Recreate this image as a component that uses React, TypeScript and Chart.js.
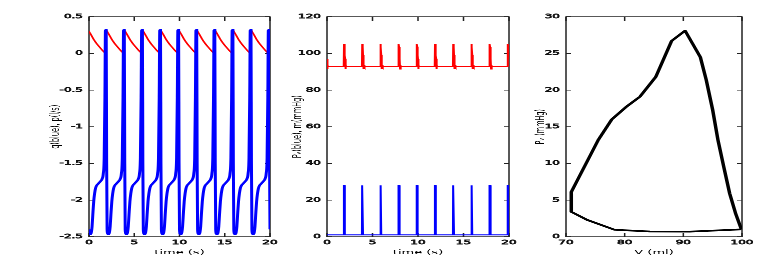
import React, { useEffect, useRef } from "react";
import { Chart, registerables } from "chart.js";

Chart.register(...registerables);

// ---------- data ----------
// beat start times (s); each beat re-uses the cycle shapes below
const beatStarts = [0, 2, 4, 6, 8, 10, 12, 14, 16, 18, 20];
const tEnd = 20;

// panel 1: q (blue) over one beat, times relative to beat start
const qCycleT = [0.0, 0.07, 0.16, 0.26, 0.34, 0.42, 0.52, 0.62, 0.72, 0.85, 1.0, 1.15, 1.3, 1.45, 1.58, 1.68, 1.76, 1.82, 1.9, 1.95];
const qCycleV = [-2.4, -2.46, -2.47, -2.44, -2.36, -2.2, -2.02, -1.91, -1.84, -1.8, -1.78, -1.76, -1.74, -1.71, -1.64, -1.42, -0.6, 0.32, 0.32, -1.5];

// panel 1: p (red) over one beat
const pCycleT = [0.0, 0.25, 0.5, 0.75, 1.0, 1.25, 1.5, 1.75, 1.86, 1.9];
const pCycleV = [0.3, 0.25, 0.195, 0.15, 0.11, 0.075, 0.04, 0.01, 0.0, 0.32];

// panel 2: Pv (blue) over one beat
const pvCycleT = [0.0, 1.84, 1.86, 1.93, 1.96];
const pvCycleV = [1.0, 1.0, 28, 28, 1.0];

// panel 2: Pa (red) over one beat
const paCycleT = [0.0, 0.03, 0.07, 0.12, 1.84, 1.87, 1.92, 1.96];
const paCycleV = [97, 91.5, 93.5, 93, 93, 105, 103.5, 99];

// panel 3: pressure-volume loop
const loopV = [99.9, 98.9, 97.9, 96.9, 95.9, 95.0, 93.9, 92.9, 90.3, 88.0, 85.3, 82.6, 80.4, 77.8, 75.5, 70.9, 70.9, 73.6, 78.3, 84.3, 91.1, 99.9];
const loopP = [1.0, 3.2, 5.9, 9.5, 13.2, 17.3, 21.4, 24.5, 28.1, 26.7, 21.8, 19.1, 17.8, 16.0, 13.2, 6.1, 3.4, 2.3, 0.95, 0.72, 0.7, 1.0];

// axis ticks
const timeTicks = [0, 5, 10, 15, 20];
const qTicks = [-2.5, -2, -1.5, -1, -0.5, 0, 0.5];
const pressTicks = [0, 20, 40, 60, 80, 100, 120];
const loopPTicks = [0, 5, 10, 15, 20, 25, 30];
const loopVTicks = [70, 80, 90, 100];

// ---------- helpers ----------
function beatSeries(ts: number[], vs: number[]) {
  const out: { x: number; y: number }[] = [];
  for (const s of beatStarts) {
    for (let i = 0; i < ts.length; i++) {
      const t = s + ts[i];
      if (t <= tEnd + 1e-9) out.push({ x: t, y: vs[i] });
    }
  }
  return out;
}

const SQ = 0.5; // vertical squash of the reference picture
const VH = 540; // virtual height
const FONT = "'DejaVu Sans', sans-serif";
const TXT = "#111111";

const framePlugin = {
  id: "frame",
  beforeDatasetsDraw(chart: any) {
    const { ctx, chartArea: a, scales } = chart;
    ctx.save();
    ctx.strokeStyle = "#222";
    ctx.lineWidth = 1.5;
    ctx.strokeRect(a.left, a.top, a.right - a.left, a.bottom - a.top);
    ctx.beginPath();
    const sx = scales.x;
    const sy = scales.y;
    for (const t of sx.ticks) {
      const px = sx.getPixelForValue(t.value);
      ctx.moveTo(px, a.bottom);
      ctx.lineTo(px, a.bottom - 8);
      ctx.moveTo(px, a.top);
      ctx.lineTo(px, a.top + 8);
    }
    for (const t of sy.ticks) {
      const py = sy.getPixelForValue(t.value);
      ctx.moveTo(a.left, py);
      ctx.lineTo(a.left + 5, py);
      ctx.moveTo(a.right, py);
      ctx.lineTo(a.right - 5, py);
    }
    ctx.stroke();
    ctx.restore();
  },
};

type PanelDef = {
  left: number;
  width: number;
  padLeft: number;
  padRight: number;
  yWidth: number;
  yTitlePad: number;
  xMin: number;
  xMax: number;
  xStep: number;
  yMin: number;
  yMax: number;
  yStep: number;
  xTitle: string;
  yTitle: string;
  datasets: any[];
};

const plainLabel = (v: any) => String(Math.round(Number(v) * 1000) / 1000);

function Panel({ def }: { def: PanelDef }) {
  const ref = useRef<HTMLCanvasElement | null>(null);
  useEffect(() => {
    if (!ref.current) return;
    const tickFont = { family: FONT, size: 12 };
    const titleFont = { family: FONT, size: 13 };
    const tickCommon = {
      padding: 6,
      font: tickFont,
      color: TXT,
      autoSkip: false,
      callback: plainLabel,
      textStrokeColor: TXT,
      textStrokeWidth: 1.0,
    };
    const chart = new Chart(ref.current, {
      type: "scatter",
      data: { datasets: def.datasets },
      plugins: [framePlugin],
      options: {
        animation: false,
        responsive: false,
        devicePixelRatio: 1,
        layout: { padding: { left: def.padLeft, right: def.padRight, top: 33, bottom: 18 } },
        plugins: { legend: { display: false }, tooltip: { enabled: false } },
        elements: { point: { radius: 0 } },
        scales: {
          x: {
            type: "linear",
            min: def.xMin,
            max: def.xMax,
            ticks: { ...tickCommon, stepSize: def.xStep, padding: 5, maxRotation: 0 },
            grid: { display: false, drawTicks: false },
            border: { display: false },
            title: { display: true, text: def.xTitle, font: titleFont, color: "#000", padding: { top: 0, bottom: 10 } },
            afterFit: (s: any) => {
              s.height = 49;
            },
          },
          y: {
            type: "linear",
            min: def.yMin,
            max: def.yMax,
            ticks: { ...tickCommon, stepSize: def.yStep },
            grid: { display: false, drawTicks: false },
            border: { display: false },
            title: { display: true, text: def.yTitle, font: titleFont, color: "#000", padding: { top: def.yTitlePad, bottom: 0 } },
            afterFit: (s: any) => {
              s.width = def.yWidth;
            },
          },
        },
      } as any,
    });
    return () => chart.destroy();
  }, [def]);
  return (
    <canvas
      ref={ref}
      width={def.width}
      height={VH}
      style={{ position: "absolute", left: def.left, top: 0, width: def.width, height: VH }}
    />
  );
}

const panel1: PanelDef = {
  left: 0,
  width: 285,
  padLeft: 43,
  padRight: 15,
  yWidth: 46,
  yTitlePad: 5,
  xMin: timeTicks[0],
  xMax: timeTicks[timeTicks.length - 1],
  xStep: 5,
  yMin: qTicks[0],
  yMax: qTicks[qTicks.length - 1],
  yStep: 0.5,
  xTitle: "time (s)",
  yTitle: "q(blue), p(l/s)",
  datasets: [
    { data: beatSeries(qCycleT, qCycleV), showLine: true, borderColor: "#0000ff", borderWidth: 3, cubicInterpolationMode: "monotone" },
    { data: beatSeries(pCycleT, pCycleV), showLine: true, borderColor: "#ff0000", borderWidth: 2, cubicInterpolationMode: "monotone" },
  ],
};

const panel2: PanelDef = {
  left: 285,
  width: 245,
  padLeft: 1,
  padRight: 21,
  yWidth: 41,
  yTitlePad: 4,
  xMin: timeTicks[0],
  xMax: timeTicks[timeTicks.length - 1],
  xStep: 5,
  yMin: pressTicks[0],
  yMax: pressTicks[pressTicks.length - 1],
  yStep: 20,
  xTitle: "time (s)",
  yTitle: "Pᵥ(blue), m(mmHg)",
  datasets: [
    { data: beatSeries(pvCycleT, pvCycleV), showLine: true, borderColor: "#0000ff", borderWidth: 2 },
    { data: beatSeries(paCycleT, paCycleV), showLine: true, borderColor: "#ff0000", borderWidth: 2 },
  ],
};

const panel3: PanelDef = {
  left: 530,
  width: 252,
  padLeft: 0,
  padRight: 40,
  yWidth: 36,
  yTitlePad: 3,
  xMin: loopVTicks[0],
  xMax: loopVTicks[loopVTicks.length - 1],
  xStep: 10,
  yMin: loopPTicks[0],
  yMax: loopPTicks[loopPTicks.length - 1],
  yStep: 5,
  xTitle: "V (ml)",
  yTitle: "Pᵥ (mmHg)",
  datasets: [
    {
      data: loopV.map((v, i) => ({ x: v, y: loopP[i] })),
      showLine: true,
      borderColor: "#000000",
      borderWidth: 3.5,
      borderJoinStyle: "round",
    },
  ],
};

export default function App() {
  useEffect(() => {
    document.body.style.margin = "0";
  }, []);
  return (
    <div style={{ position: "fixed", left: 0, top: 0, width: 782, height: 270, overflow: "hidden", background: "#fff" }}>
      <div
        style={{
          position: "absolute",
          left: 0,
          top: 0,
          width: 782,
          height: VH,
          transform: `scaleY(${SQ})`,
          transformOrigin: "0 0",
        }}
      >
        <Panel def={panel1} />
        <Panel def={panel2} />
        <Panel def={panel3} />
      </div>
    </div>
  );
}
